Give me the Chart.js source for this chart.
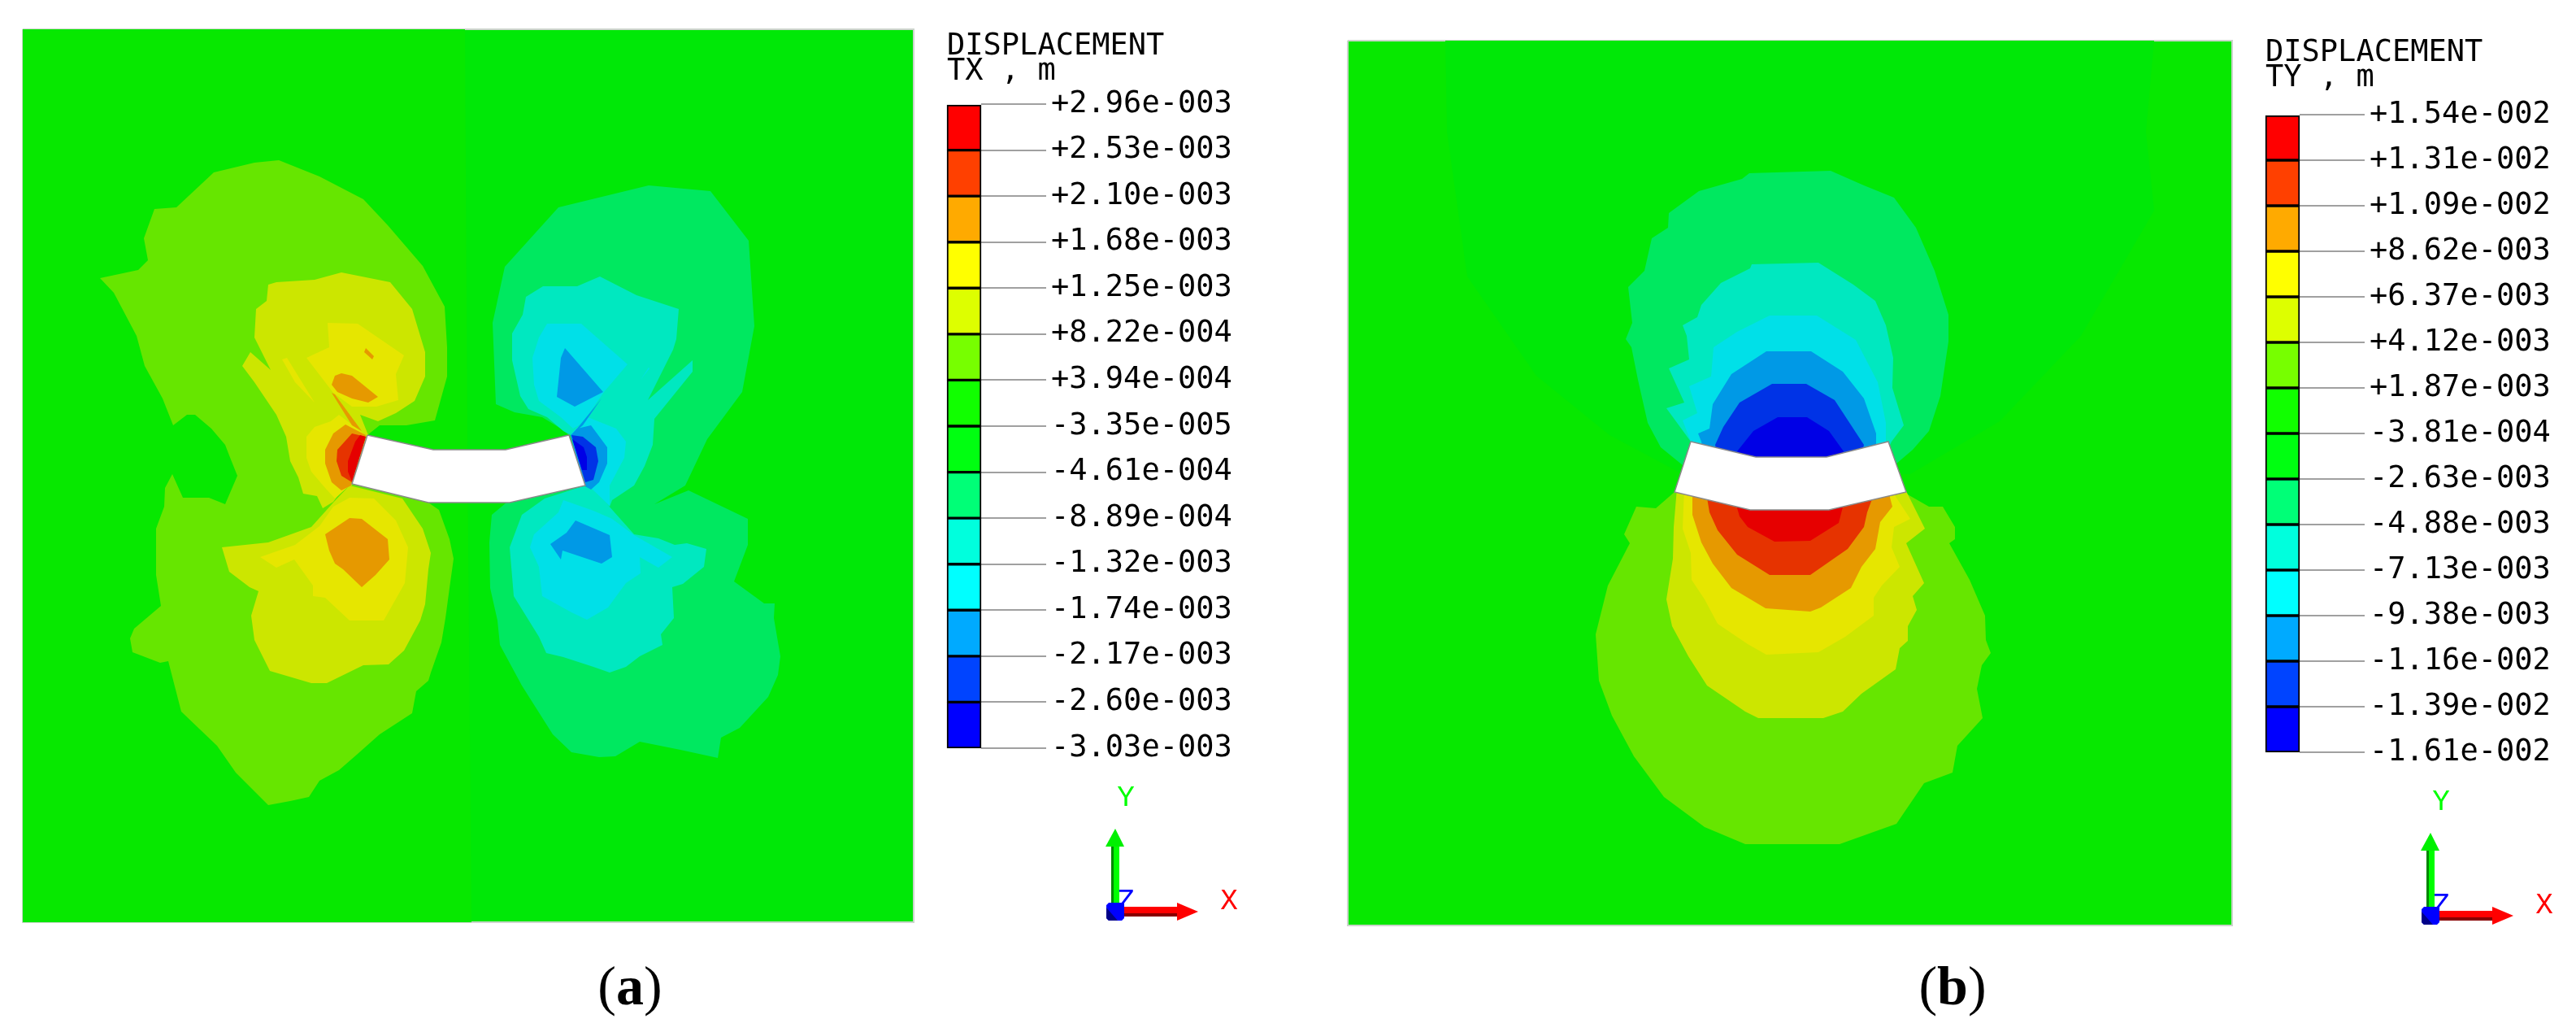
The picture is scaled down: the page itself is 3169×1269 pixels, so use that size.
<!DOCTYPE html>
<html>
<head>
<meta charset="utf-8">
<title>Displacement contours</title>
<script src="https://cdn.jsdelivr.net/npm/chart.js@4"></script>
<style>
  html, body { margin: 0; padding: 0; background: #fff; width: 3169px; height: 1269px; overflow: hidden; }
  canvas { position: absolute; display: block; }
  .head { position: absolute; font: 37px/31px "DejaVu Sans Mono", monospace; color: #000; white-space: pre; }
  .cap { position: absolute; width: 200px; text-align: center; font: 68px/80px "Liberation Serif", serif; color: #000; }
  .cap b { font-weight: bold; }
</style>
</head>
<body>
<canvas id="fieldA" style="left:26px;top:34px"></canvas>
<canvas id="barA" style="left:1150px;top:98px"></canvas>
<canvas id="axesA" style="left:1240px;top:930px"></canvas>
<div class="head" style="left:1165px;top:39px">DISPLACEMENT
TX , m</div>
<div class="cap" style="left:675px;top:1172px">(<b>a</b>)</div>

<canvas id="fieldB" style="left:1656px;top:48px"></canvas>
<canvas id="barB" style="left:2772px;top:111px"></canvas>
<canvas id="axesB" style="left:2858px;top:935px"></canvas>
<div class="head" style="left:2787px;top:47px">DISPLACEMENT
TY , m</div>
<div class="cap" style="left:2302px;top:1172px">(<b>b</b>)</div>

<script>
// legend values, top to bottom
const tickLabelsTX = ['+2.96e-003','+2.53e-003','+2.10e-003','+1.68e-003','+1.25e-003','+8.22e-004','+3.94e-004','-3.35e-005','-4.61e-004','-8.89e-004','-1.32e-003','-1.74e-003','-2.17e-003','-2.60e-003','-3.03e-003']
const tickLabelsTY = ['+1.54e-002','+1.31e-002','+1.09e-002','+8.62e-003','+6.37e-003','+4.12e-003','+1.87e-003','-3.81e-004','-2.63e-003','-4.88e-003','-7.13e-003','-9.38e-003','-1.16e-002','-1.39e-002','-1.61e-002']
const legendColors = ['#FF0000','#FF4000','#FFAA00','#FFFF00','#DDFF00','#77FF00','#11FF00','#00FF11','#00FF77','#00FFDD','#00FFFF','#00AAFF','#0044FF','#0000FF']
const bandColors = ['#E60000','#E63300','#E69900','#E6E600','#CCE600','#66E600','#07E800','#00E807','#00E860','#00E8C0','#00E0E8','#0099E6','#0033E6','#0000E6']

// TX contour bands, picture pixels
const txBackLeft = [[28,36],[572,36],[575,553],[580,1134],[28,1134]]
const txLime = [[343,197],[393,217],[447,245],[477,277],[520,327],[547,377],[550,427],[550,463],[535,517],[500,523],[467,523],[452,535],[527,618],[540,627],[553,663],[558,687],[553,723],[548,760],[543,790],[530,827],[527,837],[512,850],[507,877],[467,903],[440,927],[417,947],[393,960],[380,980],[357,985],[330,990],[290,950],[267,917],[223,875],[207,813],[197,815],[163,802],[160,785],[165,773],[198,745],[192,707],[192,650],[202,623],[203,600],[212,583],[225,612],[257,612],[277,620],[292,585],[282,560],[277,547],[260,527],[240,510],[230,510],[213,523],[200,490],[178,450],[168,413],[140,360],[123,342],[170,332],[182,320],[177,293],[190,257],[217,255],[263,212],[313,200]]
const txPaleUp = [[330,350],[340,347],[387,344],[420,335],[480,347],[507,380],[523,433],[523,463],[510,493],[487,508],[465,518],[443,510],[453,535],[433,597],[420,603],[410,617],[397,625],[390,610],[373,607],[367,587],[357,567],[352,537],[340,510],[313,470],[298,450],[308,433],[333,455],[313,415],[315,380],[328,370]]
const txPaleLow = [[430,597],[495,613],[520,650],[530,680],[527,700],[523,743],[517,763],[497,800],[478,817],[447,818],[402,840],[383,840],[332,825],[313,787],[309,757],[318,727],[307,722],[282,703],[273,673],[330,667],[383,648],[410,618]]
const txYellowUp = [[403,397],[440,398],[497,437],[487,460],[490,492],[463,500],[433,500],[410,483],[377,440],[405,427]]
const txYellowWisp = [[347,442],[353,440],[387,495],[363,470]]
const txYellowTip = [[417,510],[447,533],[430,597],[412,613],[400,600],[383,580],[377,563],[377,537],[387,525],[407,518]]
const txYellowLow = [[430,612],[460,613],[487,640],[502,673],[498,717],[472,763],[430,763],[400,735],[385,733],[385,720],[362,688],[340,698],[320,685],[363,670],[393,647],[410,623]]
const txOrangeDot = [[450,428],[460,438],[458,442],[448,433]]
const txOrangeUp = [[420,459],[433,462],[465,488],[453,495],[433,490],[415,482],[408,473],[412,462]]
const txOrangeStreak = [[408,483],[412,485],[445,530],[433,523]]
const txOrangeTip = [[425,522],[450,535],[432,597],[420,603],[408,593],[400,570],[400,553],[410,533]]
const txOrangeLow = [[430,637],[445,638],[477,663],[479,688],[462,707],[445,722],[422,700],[412,693],[405,677],[400,657]]
const txRedOrange = [[433,533],[450,537],[433,593],[420,585],[414,567],[415,553]]
const txRed = [[443,535],[450,537],[433,592],[428,580],[428,567],[437,543]]
const txSpring = [[606,397],[621,328],[687,255],[798,228],[874,235],[921,296],[928,401],[913,482],[870,540],[843,597],[805,620],[847,603],[920,638],[920,670],[903,715],[940,742],[953,742],[952,760],[960,807],[957,830],[945,857],[910,895],[887,907],[883,932],[837,922],[787,912],[757,930],[737,931],[703,925],[680,903],[642,843],[615,793],[612,763],[603,723],[602,667],[605,633],[623,618],[700,535],[690,527],[667,513],[633,507],[610,497]]
const txAquaUp = [[668,352],[710,352],[738,340],[783,363],[835,380],[832,417],[828,430],[797,492],[852,443],[852,457],[805,515],[803,547],[793,573],[780,597],[753,615],[750,623],[730,607],[722,598],[702,535],[693,530],[673,513],[650,503],[640,487],[630,443],[630,410],[643,387],[647,365]]
const txAquaLow = [[730,600],[747,620],[780,657],[810,662],[830,670],[845,668],[869,675],[866,697],[840,718],[827,722],[829,760],[813,780],[815,793],[787,807],[770,820],[750,827],[730,820],[693,808],[672,803],[663,783],[632,733],[627,673],[642,633],[670,613],[717,598]]
const txCyanUp = [[673,398],[715,398],[772,448],[743,482],[717,520],[705,527],[690,513],[663,493],[657,473],[655,440],[663,415]]
const txCyanSliver = [[798,452],[799,453],[788,467]]
const txCyanTip = [[723,513],[758,527],[770,543],[768,563],[750,597],[750,622],[727,600],[703,533]]
const txCyanLow = [[693,615],[730,628],[753,638],[780,658],[827,685],[810,698],[787,685],[788,705],[770,717],[748,747],[722,762],[703,753],[667,733],[663,697],[652,673],[657,657],[687,630]]
const txSkyUp = [[695,428],[742,482],[707,500],[685,488],[690,440]]
const txSkySlit = [[705,533],[740,490],[717,523]]
const txSkyTip = [[710,527],[727,523],[747,550],[747,570],[737,593],[727,602],[718,597],[702,535]]
const txSkyLow = [[708,640],[750,658],[753,685],[740,693],[692,677],[690,688],[677,669],[697,655]]
const txBlue = [[703,535],[717,537],[733,550],[736,567],[730,590],[720,593]]
const txDeep = [[704,540],[718,550],[722,562],[722,578],[716,578]]
const txBeam = [[452,535],[533,553],[622,553],[700,535],[720,597],[627,618],[527,618],[433,595],[452,535]]

// TY contour bands, picture pixels
const tyBackMid = [[1778,50],[1780,162],[1805,340],[1890,462],[1980,535],[2070,583],[2350,583],[2460,518],[2560,413],[2650,259],[2640,162],[2650,50]]
const tySpring = [[2152,213],[2252,210],[2293,228],[2330,243],[2357,280],[2380,333],[2397,387],[2397,420],[2387,487],[2373,530],[2353,553],[2333,570],[2323,543],[2300,600],[2100,600],[2070,572],[2043,550],[2027,520],[2015,467],[2007,427],[2000,417],[2008,397],[2003,353],[2023,333],[2032,293],[2052,280],[2053,262],[2090,235],[2143,220]]
const tyAqua = [[2155,325],[2237,323],[2280,350],[2307,370],[2320,400],[2329,440],[2328,477],[2342,523],[2327,543],[2300,600],[2100,600],[2080,543],[2050,502],[2072,495],[2053,453],[2078,442],[2075,413],[2070,400],[2088,390],[2093,375],[2117,348],[2153,330]]
const tyCyan = [[2177,388],[2235,388],[2283,418],[2310,470],[2320,520],[2320,543],[2300,600],[2100,600],[2080,543],[2070,517],[2088,508],[2078,475],[2105,463],[2108,427],[2137,408]]
const tySky = [[2173,432],[2228,432],[2267,457],[2293,490],[2308,533],[2308,547],[2300,600],[2100,600],[2093,543],[2089,533],[2103,527],[2107,497],[2130,460]]
const tyBlue = [[2180,472],[2222,472],[2257,492],[2293,547],[2280,600],[2120,600],[2110,547],[2120,525],[2140,495]]
const tyDeep = [[2187,513],[2223,513],[2250,530],[2268,555],[2247,580],[2160,580],[2137,555],[2157,530]]
const tyLime = [[2060,605],[2037,625],[2013,623],[1998,657],[2005,668],[1978,720],[1963,780],[1967,837],[1983,880],[2010,930],[2047,980],[2097,1017],[2147,1038],[2263,1038],[2333,1013],[2367,963],[2402,950],[2408,917],[2439,883],[2432,847],[2438,818],[2449,803],[2443,787],[2442,757],[2423,713],[2398,668],[2405,663],[2405,648],[2390,623],[2373,623],[2345,607]]
const tyPale = [[2063,600],[2343,600],[2368,650],[2345,668],[2367,717],[2353,733],[2358,750],[2347,770],[2347,788],[2337,797],[2332,823],[2290,853],[2267,875],[2243,883],[2163,883],[2147,875],[2100,843],[2077,807],[2057,770],[2050,737],[2058,687],[2059,648]]
const tyYellow = [[2072,600],[2325,600],[2350,638],[2330,648],[2327,673],[2337,697],[2315,720],[2305,735],[2305,757],[2270,783],[2237,802],[2173,805],[2150,792],[2113,767],[2097,737],[2081,713],[2080,680],[2070,650]]
const tyOrange = [[2082,600],[2322,600],[2328,623],[2313,642],[2307,675],[2290,697],[2277,723],[2240,747],[2227,752],[2172,748],[2130,723],[2107,693],[2093,667],[2082,633]]
const tyRedOrange = [[2098,600],[2308,600],[2297,630],[2293,648],[2273,675],[2227,707],[2177,707],[2137,682],[2113,652],[2103,630]]
const tyRed = [[2130,600],[2273,600],[2262,643],[2227,665],[2183,666],[2150,648],[2140,635]]
const tyBeam = [[2080,543],[2160,562],[2247,562],[2323,543],[2345,605],[2250,627],[2153,627],[2060,605],[2080,543]]

// triad shapes, 320 x 320 box
const triadGreenShaft = [[127,105],[137,105],[137,185],[127,185]]
const triadGreenDark = [[127,105],[130,105],[130,185],[127,185]]
const triadGreenHead = [[132,89],[143,111],[120,111]]
const triadRedShaft = [[140,185],[210,185],[210,197],[140,197]]
const triadRedDark = [[140,193],[210,193],[210,197],[140,197]]
const triadRedHead = [[208,180],[234,191],[208,202]]
const triadCube = [[124,180],[143,180],[143,199],[140,202],[124,202],[121,199],[121,183]]
const triadCubeDark = [[121,186],[135,202],[124,202],[121,199]]
const triadText = [['Y',145,51,'#00FF00'],['X',272,178,'#FF0000'],['Z',145,178,'#0000FF']]

function shape(points, color, extra) {
  return Object.assign({
    data: points.map(p => ({x: p[0], y: p[1]})),
    showLine: true,
    fill: 'shape',
    tension: 0,
    pointRadius: 0,
    borderWidth: 0,
    backgroundColor: color
  }, extra || {})
}

function hiddenAxis(min, max, reverse) {
  return {type: 'linear', display: false, min: min, max: max, reverse: !!reverse}
}

// first dataset is drawn last in chart.js, so the paint order gets reversed
function drawField(id, x0, x1, y0, y1, backColor, bands, beam) {
  const canvas = document.getElementById(id)
  canvas.width = x1 - x0 + 4
  canvas.height = y1 - y0 + 4
  const frame = [[x0,y0],[x1,y0],[x1,y1],[x0,y1],[x0,y0]]
  const sets = [shape(frame, backColor, {borderWidth: 2, borderColor: '#CCD4CC', clip: 2})]
  bands.forEach(b => sets.push(shape(b[0], bandColors[b[1]])))
  sets.push(shape(beam, '#FFFFFF', {borderWidth: 1.5, borderColor: '#8A8A8A'}))
  new Chart(canvas, {
    type: 'scatter',
    data: {datasets: sets.reverse()},
    options: {
      responsive: false,
      animation: false,
      events: [],
      layout: {padding: 2},
      plugins: {legend: {display: false}, tooltip: {enabled: false}},
      scales: {x: hiddenAxis(x0, x1), y: hiddenAxis(y0, y1, true)}
    }
  })
}

function drawLegend(id, labels, step) {
  const canvas = document.getElementById(id)
  canvas.width = 377
  canvas.height = Math.round(step * 14) + 60
  new Chart(canvas, {
    type: 'bar',
    data: {
      labels: ['band'],
      datasets: legendColors.map((c, i) => ({
        data: [[i, i + 1]],
        backgroundColor: c,
        borderColor: '#000',
        borderWidth: 2,
        borderSkipped: false,
        grouped: false,
        clip: false,
        barPercentage: 1,
        categoryPercentage: 1
      }))
    },
    options: {
      responsive: false,
      animation: false,
      events: [],
      layout: {padding: {left: 15, top: 30, bottom: 30}},
      plugins: {legend: {display: false}, tooltip: {enabled: false}},
      scales: {
        x: {display: false},
        y: {
          position: 'right',
          reverse: true,
          min: 0,
          max: 14,
          afterFit: s => { s.width = 320 },
          border: {display: false},
          grid: {drawOnChartArea: false, tickLength: 80, color: '#A0A0A0', lineWidth: 2},
          ticks: {
            stepSize: 1,
            autoSkip: false,
            padding: 6,
            color: '#000',
            font: {family: '"DejaVu Sans Mono", monospace', size: 37},
            callback: v => labels[v]
          }
        }
      }
    }
  })
}

const triadLabels = {
  id: 'triadLabels',
  beforeDatasetsDraw(chart) {
    const ctx = chart.ctx
    ctx.save()
    ctx.font = '36px "Liberation Mono", monospace'
    ctx.textAlign = 'center'
    ctx.textBaseline = 'middle'
    triadText.forEach(t => {
      ctx.fillStyle = t[3]
      ctx.fillText(t[0], chart.scales.x.getPixelForValue(t[1]), chart.scales.y.getPixelForValue(t[2]))
    })
    ctx.restore()
  }
}

function drawTriad(id) {
  const canvas = document.getElementById(id)
  canvas.width = 320
  canvas.height = 320
  const sets = [
    shape(triadGreenShaft, '#00FF00'), shape(triadGreenDark, '#008800'), shape(triadGreenHead, '#00F000'),
    shape(triadRedShaft, '#FF0000'), shape(triadRedDark, '#880000'), shape(triadRedHead, '#FF0000'),
    shape(triadCube, '#0000FF'), shape(triadCubeDark, '#000088')
  ]
  new Chart(canvas, {
    type: 'scatter',
    data: {datasets: sets.reverse()},
    options: {
      responsive: false,
      animation: false,
      events: [],
      plugins: {legend: {display: false}, tooltip: {enabled: false}},
      scales: {x: hiddenAxis(0, 320), y: hiddenAxis(0, 320, true)}
    },
    plugins: [triadLabels]
  })
}

drawField('fieldA', 28, 1124, 36, 1134, bandColors[7], [
  [txBackLeft,6],[txLime,5],[txPaleUp,4],[txPaleLow,4],
  [txYellowUp,3],[txYellowWisp,3],[txYellowTip,3],[txYellowLow,3],
  [txOrangeDot,2],[txOrangeUp,2],[txOrangeStreak,2],[txOrangeTip,2],[txOrangeLow,2],
  [txRedOrange,1],[txRed,0],
  [txSpring,8],[txAquaUp,9],[txAquaLow,9],
  [txCyanUp,10],[txCyanSliver,10],[txCyanTip,10],[txCyanLow,10],
  [txSkyUp,11],[txSkySlit,11],[txSkyTip,11],[txSkyLow,11],
  [txBlue,12],[txDeep,13]
], txBeam)

drawField('fieldB', 1658, 2746, 50, 1138, bandColors[6], [
  [tyBackMid,7],[tySpring,8],[tyAqua,9],[tyCyan,10],[tySky,11],[tyBlue,12],[tyDeep,13],
  [tyLime,5],[tyPale,4],[tyYellow,3],[tyOrange,2],[tyRedOrange,1],[tyRed,0]
], tyBeam)

drawLegend('barA', tickLabelsTX, 56.57)
drawLegend('barB', tickLabelsTY, 56)
drawTriad('axesA')
drawTriad('axesB')
</script>
</body>
</html>
